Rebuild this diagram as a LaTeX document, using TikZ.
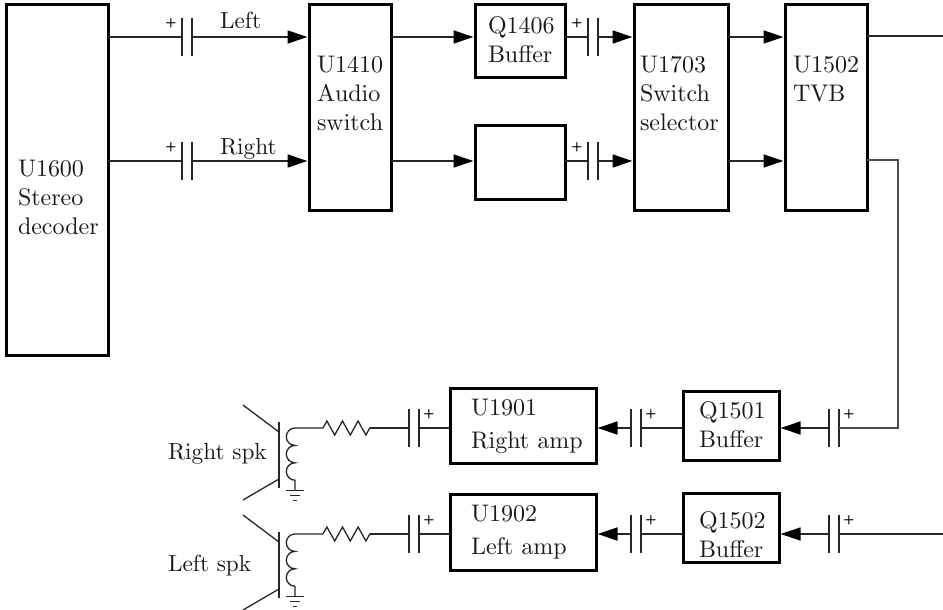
\documentclass[tikz,border=0pt]{standalone}
\usepackage{xcolor}
\usetikzlibrary{arrows.meta, positioning, decorations.pathmorphing}
\font\boxfont=cmr10 at 24pt
\font\spkfont=cmr10 at 23.3pt
\font\plusfont=cmssbx10 at 13pt
\tikzset{
  box/.style={rectangle, draw=black, fill=white, line width=3pt, inner sep=0pt, outer sep=0pt,
              anchor=north west},
  boxtext/.style={anchor=north west, align=left, inner sep=0pt, outer sep=0pt,
                  font=\fontsize{24}{29}\selectfont\boxfont, text=black!90},
  sidetext/.style={inner sep=0pt, outer sep=0pt, font=\spkfont, text=black!90},
  capnode/.style={rectangle, minimum width=10pt, minimum height=38pt, inner sep=0pt, outer sep=0pt},
  plate/.style={draw=black!85, line width=1.3pt},
  plusmark/.style={inner sep=0pt, outer sep=0pt, font=\plusfont},
  wire/.style={draw=black!85, line width=1.3pt},
  longwire/.style={draw=black!70, line width=1.5pt},
  arrow/.style={-{Triangle[length=20pt, width=13pt, color=black]}, draw=black!85, line width=1.3pt, shorten >=1.5pt},
}
\begin{document}
\begin{tikzpicture}[x=1pt, y=1pt]
  \useasboundingbox (0,0) rectangle (943,-610);

  % Top row boxes
  \node[box, minimum width=102pt, minimum height=350pt] (u1600) at (6,-5) {};
  \node[box, minimum width=82pt, minimum height=205pt, right=201pt of u1600.north east, anchor=north west] (u1410) {};
  \node[box, minimum width=90pt, minimum height=73pt, right=84pt of u1410.north east, anchor=north west] (q1406) {};
  \node[box, minimum width=90pt, minimum height=74pt, below=47pt of q1406.south west, anchor=north west] (blank) {};
  \node[box, minimum width=94pt, minimum height=205pt, right=69pt of q1406.north east, anchor=north west] (u1703) {};
  \node[box, minimum width=82pt, minimum height=205pt, right=57pt of u1703.north east, anchor=north west] (u1502) {};

  % Lower rows
  \node[box, minimum width=146pt, minimum height=75pt] (u1901) at (450,-388) {};
  \node[box, minimum width=146pt, minimum height=76pt, below=31pt of u1901.south west, anchor=north west] (u1902) {};
  \node[box, minimum width=96pt, minimum height=69pt] (q1501) at (683,-391) {};
  \node[box, minimum width=96pt, minimum height=69pt, below=33pt of q1501.south west, anchor=north west] (q1502) {};

  % Box texts
  \node[boxtext, xshift=12pt, yshift=-155pt] (u1600txt) at (u1600.north west) {U1600\\Stereo\\decoder};
  \node[boxtext, xshift=8pt, yshift=-51pt] (u1410txt) at (u1410.north west) {U1410\\Audio\\switch};
  \node[boxtext, xshift=13pt, yshift=-12pt] (q1406txt) at (q1406.north west) {Q1406\\Buffer};
  \node[boxtext, xshift=6pt, yshift=-51pt] (u1703txt) at (u1703.north west) {U1703\\Switch\\selector};
  \node[boxtext, xshift=8pt, yshift=-51pt] (u1502txt) at (u1502.north west) {U1502\\TVB};
  \node[boxtext, xshift=21pt, yshift=-11pt] (u1901txt) at (u1901.north west) {U1901\\[4pt]Right amp};
  \node[boxtext, xshift=21pt, yshift=-11pt] (u1902txt) at (u1902.north west) {U1902\\[4pt]Left amp};
  \node[boxtext, xshift=16pt, yshift=-11pt] (q1501txt) at (q1501.north west) {Q1501\\Buffer};
  \node[boxtext, xshift=16pt, yshift=-19pt] (q1502txt) at (q1502.north west) {Q1502\\Buffer};

  % Capacitors
  \node[capnode] (capa) at (187,-37) {};
  \node[capnode] (capb) at (187,-161) {};
  \node[capnode] (capc) at (593,-37) {};
  \node[capnode] (capd) at (593,-161) {};
  \node[capnode] (cape) at (834,-428) {};
  \node[capnode] (capf) at (636,-428) {};
  \node[capnode] (capg) at (414,-428) {};
  \node[capnode] (caph) at (834,-534) {};
  \node[capnode] (capi) at (636,-534) {};
  \node[capnode] (capj) at (414,-534) {};
  \foreach \c in {capa,capb,capc,capd,cape,capf,capg,caph,capi,capj} {
    \draw[plate] (\c.north west) -- (\c.south west) (\c.north east) -- (\c.south east);
  }
  % Plus signs sit left on the top rows, right on the amp rows
  \foreach \c in {capa,capb,capc,capd} {
    \node[plusmark, xshift=-11pt, yshift=-5pt] (\c plus) at (\c.north west) {+};
  }
  \foreach \c in {cape,capf,capg,caph,capi,capj} {
    \node[plusmark, xshift=10pt, yshift=-5pt] (\c plus) at (\c.north east) {+};
  }

  % Top row connectors
  \draw[wire] (u1600.east |- capa) -- (capa.west);
  \draw[arrow] (capa.east) -- node[sidetext, pos=.24, anchor=base west, yshift=8pt] (lefttxt) {Left} (u1410.west |- capa);
  \draw[wire] (u1600.east |- capb) -- (capb.west);
  \draw[arrow] (capb.east) -- node[sidetext, pos=.24, anchor=base west, yshift=7pt] (righttxt) {Right} (u1410.west |- capb);
  \draw[arrow] (u1410.east |- capc) -- (q1406.west |- capc);
  \draw[arrow] (u1410.east |- capd) -- (blank.west |- capd);
  \draw[wire] (q1406.east |- capc) -- (capc.west);
  \draw[arrow] (capc.east) -- (u1703.west |- capc);
  \draw[wire] (blank.east |- capd) -- (capd.west);
  \draw[arrow] (capd.east) -- (u1703.west |- capd);
  \draw[arrow] (u1703.east |- capc) -- (u1502.west |- capc);
  \draw[arrow] (u1703.east |- capd) -- (u1502.west |- capd);

  % Outputs of U1502
  \coordinate (outtop) at (943,-36);
  \coordinate (turn) at (898,-160);
  \coordinate (inlow) at (943,-534);
  \draw[wire] (u1502.east |- outtop) -- (outtop);
  \draw[longwire] (u1502.east |- turn) -- (turn) -- (turn |- cape) -- (cape.east);
  \draw[wire] (inlow) -- (caph.east);

  % Lower row connectors
  \draw[arrow] (cape.west) -- (q1501.east |- cape);
  \draw[wire] (q1501.west |- capf) -- (capf.east);
  \draw[arrow] (capf.west) -- (u1901.east |- capf);
  \draw[wire] (u1901.west |- capg) -- (capg.east);
  \draw[arrow] (caph.west) -- (q1502.east |- caph);
  \draw[wire] (q1502.west |- capi) -- (capi.east);
  \draw[arrow] (capi.west) -- (u1902.east |- capi);
  \draw[wire] (u1902.west |- capj) -- (capj.east);

  % Resistors, coils and speakers
  \foreach \r/\yw/\ys/\cp in {r/428/422/capg, l/534/532/capj} {
    \coordinate (resa\r) at (323,-\yw);
    \coordinate (resb\r) at (370,-\yw);
    \coordinate (coil\r) at (295,-\yw);
    \draw[wire] (\cp.west) -- (resb\r);
    \draw[wire, decorate, decoration={zigzag, segment length=15.6pt, amplitude=7pt}] (resa\r) -- (resb\r);
    \draw[wire] (resa\r) -- (coil\r) arc[start angle=90, end angle=270, radius=8.7pt]
      arc[start angle=90, end angle=270, radius=8.7pt]
      arc[start angle=90, end angle=270, radius=8.7pt] -- ++(0,-10) coordinate (gnd\r);
    \draw[wire] ([xshift=-9pt]gnd\r) -- ([xshift=9pt]gnd\r);
    \draw[wire] ([xshift=-5pt, yshift=-5pt]gnd\r) -- ([xshift=5pt, yshift=-5pt]gnd\r);
    \draw[wire] ([xshift=-2pt, yshift=-10pt]gnd\r) -- ([xshift=2pt, yshift=-10pt]gnd\r);
    \draw[wire] (279,-\ys) -- ++(0,-66);
    \draw[wire] (279,-\ys-10) -- ++(-36,27);
    \draw[wire] (279,-\ys-57) -- ++(-36,-21);
  }

  \node[sidetext, anchor=base west] (rightspk) at (168,-459) {Right spk};
  \node[sidetext, anchor=base west] (leftspk) at (168,-571) {Left spk};
\end{tikzpicture}
\end{document}
